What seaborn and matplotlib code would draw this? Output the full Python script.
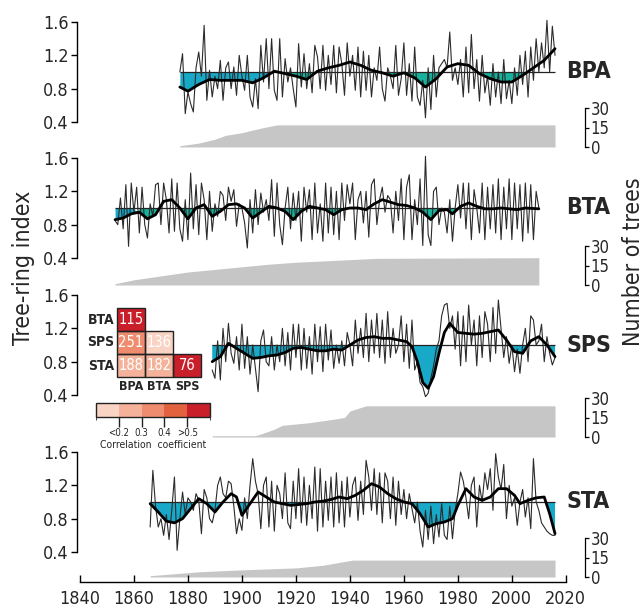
import numpy as np
import pandas as pd
import matplotlib
matplotlib.use("Agg")
import matplotlib.pyplot as plt
import seaborn as sns
from matplotlib import font_manager
from matplotlib.colors import ListedColormap, BoundaryNorm
from matplotlib.cm import ScalarMappable
from matplotlib.patches import Rectangle

# ---------------- data ----------------
bpa_start = 1877
bpa_raw = [1.00, 1.22, 0.50, 0.76, 0.62, 0.52, 1.05, 1.24, 0.95, 1.56,
           0.66, 1.02, 0.70, 0.95, 0.80, 1.14, 0.66, 1.05, 1.12, 0.80,
           1.06, 0.72, 1.20, 0.95, 0.78, 1.20, 0.70, 0.58, 0.92, 0.56,
           1.32, 0.88, 1.40, 0.80, 1.40, 0.78, 0.66, 1.40, 0.70, 1.16,
           0.88, 1.05, 0.80, 0.58, 1.34, 0.82, 1.22, 0.80, 1.10, 0.75,
           1.32, 1.18, 0.80, 1.32, 0.78, 1.20, 0.85, 1.32, 0.75, 1.30,
           1.10, 0.72, 1.35, 0.95, 1.20, 0.78, 1.30, 0.70, 1.25, 0.78,
           1.20, 0.70, 1.05, 0.90, 1.30, 0.80, 0.65, 1.05, 0.95, 0.80,
           1.32, 0.72, 0.92, 1.35, 0.72, 1.10, 0.65, 1.30, 0.70, 0.60,
           0.90, 0.45, 1.05, 0.55, 1.20, 0.70, 1.05, 1.10, 1.15, 1.05,
           1.48, 0.90, 1.05, 0.85, 1.15, 0.70, 1.30, 0.75, 1.45, 0.80,
           1.15, 0.65, 1.20, 0.75, 0.95, 0.60, 1.10, 0.70, 1.00, 0.62,
           1.15, 0.68, 0.90, 0.62, 1.05, 0.72, 1.20, 0.85, 1.25, 0.70,
           1.30, 0.90, 1.40, 1.00, 1.35, 1.05, 1.62, 1.00, 1.55, 1.20]
bpa_smooth_years = [1877, 1880, 1884, 1888, 1892, 1896, 1900, 1904, 1908, 1912, 1916, 1920,
                    1924, 1928, 1932, 1936, 1940, 1944, 1948, 1952, 1956, 1960, 1964, 1968,
                    1972, 1976, 1980, 1984, 1988, 1992, 1996, 2000, 2004, 2008, 2012, 2016]
bpa_smooth = [0.82, 0.77, 0.85, 0.91, 0.90, 0.90, 0.90, 0.87, 0.93, 1.01, 0.98, 0.95,
              0.91, 1.01, 1.05, 1.08, 1.12, 1.08, 1.02, 0.99, 0.95, 0.99, 0.93, 0.82,
              0.92, 1.06, 1.10, 1.08, 0.98, 0.92, 0.88, 0.88, 0.96, 1.05, 1.14, 1.28]
bpa_count_years = [1877, 1884, 1890, 1894, 1900, 1907, 1913, 2016]
bpa_counts = [1, 3, 6, 9, 11, 14.5, 17, 17]

bta_start = 1853
bta_raw = [0.85, 0.80, 1.12, 0.75, 1.28, 0.54, 1.30, 0.95, 1.25, 0.70,
           1.25, 0.80, 0.64, 1.05, 0.90, 1.28, 1.30, 0.80, 1.30, 1.10,
           0.70, 1.35, 0.72, 1.30, 0.75, 0.60, 1.10, 0.62, 1.42, 0.75,
           1.28, 0.68, 1.30, 1.10, 0.62, 1.20, 0.72, 1.05, 0.90, 1.20,
           1.15, 0.85, 1.25, 1.08, 1.22, 0.78, 1.05, 1.00, 0.82, 0.52,
           1.10, 0.70, 1.22, 0.80, 1.18, 0.95, 1.10, 0.85, 1.34, 0.66,
           1.30, 0.80, 0.56, 1.00, 1.25, 0.75, 1.18, 0.85, 1.20, 0.60,
           1.25, 0.95, 1.22, 0.62, 1.30, 0.70, 1.05, 0.60, 1.30, 0.70,
           1.25, 0.68, 1.20, 0.62, 1.30, 0.85, 1.28, 1.05, 1.30, 0.62,
           1.10, 1.20, 0.82, 1.20, 0.65, 1.28, 1.35, 0.80, 1.10, 1.25,
           0.95, 1.15, 1.10, 0.70, 1.20, 0.85, 1.35, 0.62, 1.25, 1.40,
           0.62, 1.10, 0.80, 1.35, 0.55, 1.62, 0.68, 0.55, 1.20, 1.25,
           0.80, 1.00, 0.95, 0.70, 1.10, 0.60, 1.00, 1.28, 0.88, 1.30,
           0.75, 1.30, 0.62, 1.22, 1.00, 0.70, 1.30, 0.62, 1.25, 0.75,
           1.28, 0.70, 1.35, 0.62, 1.25, 0.75, 1.35, 0.62, 1.30, 0.75,
           1.28, 0.60, 1.30, 0.70, 1.28, 0.62, 1.20, 1.00]
bta_smooth_years = [1853, 1856, 1859, 1862, 1865, 1868, 1871, 1874, 1877, 1880, 1883, 1886,
                    1889, 1892, 1895, 1898, 1901, 1904, 1907, 1910, 1913, 1916, 1919, 1922,
                    1925, 1928, 1931, 1934, 1937, 1940, 1943, 1946, 1949, 1952, 1955, 1958,
                    1961, 1964, 1967, 1970, 1973, 1976, 1978, 1981, 1984, 1987, 1990, 1993,
                    1996, 1999, 2002, 2005, 2010]
bta_smooth = [0.86, 0.88, 0.93, 0.95, 0.87, 0.92, 1.08, 1.10, 1.00, 0.87, 1.00, 1.04,
              0.90, 0.96, 1.04, 1.05, 1.00, 0.88, 0.95, 1.02, 1.00, 0.96, 0.86, 0.96,
              1.02, 1.00, 0.98, 0.92, 0.98, 1.00, 1.00, 0.98, 1.05, 1.10, 1.07, 1.04,
              1.03, 1.00, 0.95, 0.86, 0.97, 0.98, 0.93, 1.02, 1.06, 1.02, 0.99, 0.99,
              1.00, 0.99, 0.98, 1.00, 0.99]
bta_count_years = [1853, 1860, 1870, 1880, 1890, 1900, 1910, 1920, 1930, 1950, 2010]
bta_counts = [1, 4, 7, 10, 12, 14, 16, 17.5, 18.5, 20.5, 21]

sps_start = 1889
sps_raw = [0.70, 0.60, 1.05, 0.58, 1.20, 0.80, 1.26, 0.90, 0.78, 1.10,
           0.70, 1.25, 0.72, 1.10, 0.65, 1.00, 0.72, 0.44, 1.05, 1.18,
           0.80, 0.75, 1.10, 0.70, 1.00, 0.80, 1.20, 0.75, 1.15, 0.70,
           1.25, 0.85, 1.25, 0.70, 1.20, 0.72, 1.10, 0.65, 1.25, 0.80,
           1.22, 0.68, 1.25, 0.82, 1.18, 0.72, 1.00, 0.78, 1.05, 0.75,
           1.15, 1.00, 0.75, 1.30, 0.90, 1.20, 0.85, 1.38, 0.80, 1.30,
           0.90, 1.38, 0.85, 1.30, 0.78, 1.40, 0.85, 1.20, 0.90, 1.00,
           1.35, 0.80, 1.25, 0.72, 1.30, 0.70, 0.80, 0.55, 0.50, 0.38,
           0.42, 0.60, 0.75, 0.95, 1.05, 1.35, 1.48, 1.50, 1.20, 1.35,
           0.95, 1.40, 0.75, 1.35, 0.80, 1.48, 1.00, 1.30, 0.75, 1.35,
           0.85, 1.40, 1.25, 0.80, 1.45, 0.90, 1.54, 1.20, 0.85, 1.10,
           0.78, 1.00, 0.68, 0.95, 0.66, 1.00, 1.20, 0.80, 1.35, 1.30,
           1.00, 1.05, 1.25, 0.80, 1.10, 0.90, 0.76, 0.85]
sps_smooth_years = [1889, 1892, 1895, 1898, 1901, 1904, 1907, 1910, 1913, 1916, 1919, 1922,
                    1925, 1928, 1931, 1934, 1937, 1940, 1943, 1946, 1949, 1952, 1955, 1958,
                    1961, 1963, 1965, 1967, 1969, 1971, 1973, 1975, 1977, 1980, 1983, 1986,
                    1989, 1992, 1995, 1998, 2001, 2004, 2007, 2010, 2013, 2016]
sps_smooth = [0.80, 0.86, 1.02, 0.96, 0.90, 0.84, 0.85, 0.87, 0.88, 0.91, 0.96, 0.97,
              0.95, 0.93, 0.93, 0.95, 0.94, 1.00, 1.06, 1.09, 1.10, 1.08, 1.08, 1.06,
              1.04, 0.98, 0.80, 0.55, 0.48, 0.62, 0.90, 1.15, 1.26, 1.15, 1.14, 1.13,
              1.14, 1.16, 1.18, 1.06, 0.92, 0.90, 1.05, 1.10, 1.00, 0.86]
sps_count_years = [1889, 1905, 1908, 1912, 1915, 1925, 1935, 1938, 1940, 1946, 2016]
sps_counts = [1, 1, 3, 6, 9, 11, 14, 15, 20, 24, 24]

sta_start = 1866
sta_raw = [0.70, 1.38, 0.95, 0.70, 0.80, 0.60, 0.85, 0.55, 0.90, 1.30,
           0.42, 0.80, 1.12, 0.85, 1.05, 1.00, 0.90, 1.10, 1.02, 0.62,
           1.15, 1.05, 0.80, 0.75, 0.90, 1.20, 1.30, 1.10, 1.05, 1.25,
           1.22, 0.95, 0.62, 0.80, 0.66, 1.05, 0.80, 1.20, 1.52, 1.25,
           1.10, 0.68, 1.20, 1.30, 0.70, 1.25, 0.65, 1.20, 1.10, 0.80,
           1.35, 0.75, 0.68, 1.25, 0.80, 1.40, 0.75, 1.30, 0.72, 1.20,
           0.80, 1.42, 0.65, 1.40, 0.70, 1.25, 0.78, 1.30, 0.70, 1.35,
           0.75, 1.25, 0.70, 1.30, 0.82, 1.20, 1.30, 0.78, 1.25, 0.85,
           1.50, 1.30, 0.90, 1.40, 0.85, 1.35, 0.75, 1.35, 1.25, 0.80,
           1.30, 0.72, 1.25, 0.85, 1.15, 0.80, 1.10, 0.92, 0.75, 1.00,
           0.65, 0.46, 0.90, 0.55, 0.95, 0.50, 0.85, 0.58, 0.98, 0.60,
           0.55, 0.95, 0.56, 0.90, 1.10, 1.36, 1.25, 1.05, 0.80, 1.20,
           1.30, 0.70, 1.20, 1.00, 1.35, 1.15, 1.40, 0.90, 1.58, 1.30,
           1.15, 1.45, 0.80, 1.20, 0.95, 1.05, 0.72, 1.00, 1.15, 0.82,
           1.05, 0.68, 1.52, 1.00, 0.90, 0.75, 0.70, 0.65, 0.62, 0.60,
           0.60]
sta_smooth_years = [1866, 1869, 1872, 1875, 1878, 1881, 1884, 1887, 1890, 1893, 1896, 1898,
                    1900, 1903, 1906, 1909, 1912, 1915, 1918, 1921, 1924, 1927, 1930, 1933,
                    1936, 1939, 1942, 1945, 1948, 1951, 1954, 1957, 1960, 1963, 1966, 1969,
                    1972, 1975, 1978, 1980, 1983, 1986, 1989, 1992, 1995, 1998, 2001, 2003,
                    2006, 2009, 2012, 2014, 2016]
sta_smooth = [0.98, 0.88, 0.77, 0.75, 0.80, 0.92, 1.04, 0.98, 0.88, 1.00, 1.10, 1.06,
              0.84, 0.98, 1.12, 1.06, 1.00, 0.98, 0.96, 0.97, 0.98, 1.00, 1.01, 1.03,
              1.06, 1.04, 1.08, 1.14, 1.22, 1.18, 1.10, 1.04, 1.00, 0.98, 0.86, 0.70,
              0.74, 0.76, 0.80, 0.96, 1.16, 1.06, 1.02, 1.06, 1.16, 1.16, 1.08, 0.98,
              1.02, 1.05, 1.06, 0.86, 0.62]
sta_count_years = [1866, 1884, 1900, 1920, 1930, 1941, 2016]
sta_counts = [1, 4, 5.5, 7, 9, 13, 13]

site_names = ["BPA", "BTA", "SPS", "STA"]
yticks_index = [0.4, 0.8, 1.2, 1.6]
yticks_count = [0, 15, 30]
year_ticks = [1840, 1860, 1880, 1900, 1920, 1940, 1960, 1980, 2000, 2020]

corr_rows = ["BTA", "SPS", "STA"]
corr_cols = ["BPA", "BTA", "SPS"]
corr_values = [[0.55, np.nan, np.nan],
               [0.35, 0.15, np.nan],
               [0.25, 0.26, 0.60]]
corr_labels = [["115", "", ""],
               ["251", "136", ""],
               ["188", "182", "76"]]
cbar_bounds = [0.0, 0.2, 0.3, 0.4, 0.5, 1.0]
cbar_tick_vals = [0.2, 0.3, 0.4, 0.5]
cbar_tick_labels = ["<0.2", "0.3", "0.4", ">0.5"]

# ---------------- style ----------------
sns.set_style("white")
avail = {(f.name, f.stretch) for f in font_manager.fontManager.ttflist}
names = {n for n, _ in avail}
if "Liberation Sans Narrow" in names:
    FAMILY, STRETCH, SCALE = "Liberation Sans Narrow", "normal", 1.0
elif ("DejaVu Sans", "condensed") in avail or ("DejaVu Sans", 'semi-condensed') in avail:
    FAMILY, STRETCH, SCALE = "DejaVu Sans", "condensed", 0.92
else:
    FAMILY, STRETCH, SCALE = "DejaVu Sans", "normal", 0.82
plt.rcParams['font.family'] = [FAMILY, 'DejaVu Sans']
plt.rcParams['font.stretch'] = STRETCH

def fs(v):
    return v * SCALE

W, H = 644, 615
fig = plt.figure(figsize=(W / 100, H / 100), dpi=100)

X_LEFT, X_RIGHT = 77, 585
XLIM = (1838.9, 2027.1)
layout = [(10, 150, 22, 147), (146, 288, 158, 285), (283, 440, 295, 437), (440, 582, 452, 577)]
fill_blue, fill_green = '#18a9c9', '#17b29c'
split_years = [1915, 1860, 2100, 2100]

series = [
    (bpa_start, bpa_raw, bpa_smooth_years, bpa_smooth, bpa_count_years, bpa_counts),
    (bta_start, bta_raw, bta_smooth_years, bta_smooth, bta_count_years, bta_counts),
    (sps_start, sps_raw, sps_smooth_years, sps_smooth, sps_count_years, sps_counts),
    (sta_start, sta_raw, sta_smooth_years, sta_smooth, sta_count_years, sta_counts),
]

for i, (name, (start, raw, sy, sv, cy, cn), (top, bot, y16, y0)) in enumerate(zip(site_names, series, layout)):
    ax = fig.add_axes([X_LEFT / W, 1 - bot / H, (X_RIGHT - X_LEFT) / W, (bot - top) / H])
    ax2 = ax.twinx()
    ax.set_zorder(ax2.get_zorder() + 1)
    ax.patch.set_visible(False)
    ax.set_xlim(XLIM)

    val = lambda y: 1.6 - (y - y16) * 0.012
    cnt = lambda y: (y0 - y) * 30 / 39
    ax.set_ylim(val(bot), val(top))
    ax2.set_ylim(cnt(bot), cnt(top))

    ax2.fill_between(cy, 0, cn, color='#c6c6c6', lw=0)

    years = np.arange(start, start + len(raw))
    df = pd.DataFrame({"year": years, "index": raw})
    sm = pd.DataFrame({"year": sy, "smooth": sv})
    svals = np.array(sv)
    syears = np.array(sy)
    below = svals < 1
    early = syears <= split_years[i]
    ax.fill_between(syears, svals, 1, where=below & early, interpolate=True, color=fill_blue, lw=0, zorder=1)
    ax.fill_between(syears, svals, 1, where=below & ~early, interpolate=True, color=fill_green, lw=0, zorder=1)
    ax.hlines(1.0, years[0], years[-1], color='#222222', lw=0.9, zorder=2)
    sns.lineplot(data=df, x="year", y="index", ax=ax, color='#2b2b2b', lw=0.8, zorder=3)
    sns.lineplot(data=sm, x="year", y="smooth", ax=ax, color='black', lw=2.0, zorder=4)
    ax.set_xlabel("")
    ax.set_ylabel("")
    ax.set_xlim(XLIM)

    ax.text(2020.2, 1.0, name, fontsize=fs(18), fontweight='bold', ha='left', va='center')

    for s in ['top', 'right']:
        ax.spines[s].set_visible(False)
    ax.spines['left'].set_bounds(0.4, 1.6)
    ax.spines['left'].set_color('black')
    ax.spines['left'].set_linewidth(1.0)
    ax.set_yticks(yticks_index)
    ax.set_yticklabels([f"{t:.1f}" for t in yticks_index], fontsize=fs(14))
    ax.tick_params(axis='y', direction='out', length=4, width=1, color='black', pad=2, left=True)

    for s in ['top', 'left', 'bottom']:
        ax2.spines[s].set_visible(False)
    ax2.spines['right'].set_bounds(0, 30)
    ax2.spines['right'].set_color('black')
    ax2.spines['right'].set_linewidth(0.9)
    ax2.set_yticks(yticks_count)
    ax2.set_yticklabels([str(t) for t in yticks_count], fontsize=fs(13))
    ax2.tick_params(axis='y', direction='out', length=3, width=0.9, color='black', pad=1, right=True)
    ax2.set_ylabel("")

    if i < 3:
        ax.spines['bottom'].set_visible(False)
        ax.set_xticks([])
    else:
        ax.spines['bottom'].set_visible(True)
        ax.spines['bottom'].set_bounds(1840, 2020)
        ax.spines['bottom'].set_color('black')
        ax.spines['bottom'].set_linewidth(1.0)
        ax.set_xticks(year_ticks)
        ax.set_xticklabels([str(t) for t in year_ticks], fontsize=fs(14))
        ax.tick_params(axis='x', direction='in', length=5, width=1, color='black', pad=6, bottom=True)

fig.text(24 / W, 1 - 268 / H, "Tree-ring index", rotation=90, ha='center', va='center', fontsize=fs(18))
fig.text(634 / W, 1 - 262 / H, "Number of trees", rotation=90, ha='center', va='center', fontsize=fs(18))

# ---------------- inset correlation heatmap ----------------
cmap = ListedColormap(['#f9d3c4', '#f5b29b', '#ef8c70', '#e2623f', '#c81f2b'])
norm = BoundaryNorm(cbar_bounds, cmap.N)
cdf = pd.DataFrame(corr_values, index=corr_rows, columns=corr_cols)
mask = cdf.isna()
axi = fig.add_axes([117 / W, 1 - 377 / H, 84 / W, 69 / H])
axi.patch.set_visible(False)
sns.heatmap(cdf, mask=mask, cmap=cmap, norm=norm, annot=np.array(corr_labels), fmt='',
            cbar=False, linewidths=0, ax=axi,
            annot_kws=dict(color='white', fontsize=10.5))
for r in range(len(corr_rows)):
    for c in range(len(corr_cols)):
        if not mask.iloc[r, c]:
            axi.add_patch(Rectangle((c, r), 1, 1, fill=False, edgecolor='#222222', lw=1.0, clip_on=False))
axi.tick_params(length=0, pad=2)
axi.set_yticklabels(corr_rows, rotation=0, fontsize=10, fontweight='bold')
axi.set_xticklabels(corr_cols, rotation=0, fontsize=9, fontweight='bold')
axi.set_xlabel("")
axi.set_ylabel("")

cax = fig.add_axes([96 / W, 1 - 417 / H, 114 / W, 14 / H])
cb = fig.colorbar(ScalarMappable(norm=norm, cmap=cmap), cax=cax, orientation='horizontal',
                  spacing='uniform', ticks=cbar_tick_vals)
cb.ax.set_xticklabels(cbar_tick_labels, fontsize=7)
cb.ax.tick_params(direction='inout', length=14, width=1, color='#222222', pad=1)
cb.outline.set_linewidth(1.0)
cb.outline.set_edgecolor('#222222')
fig.text(153 / W, 1 - 445 / H, "Correlation  coefficient", ha='center', va='center', fontsize=7.5)

fig.savefig("out.png", dpi=100)
